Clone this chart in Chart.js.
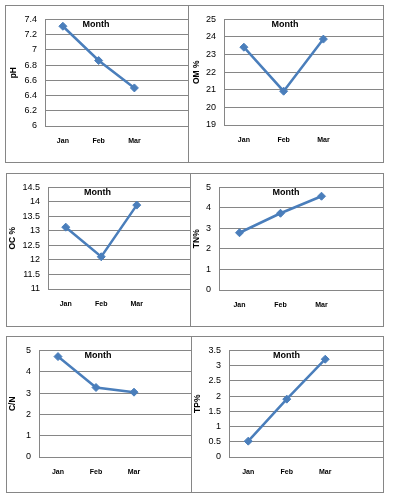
<!DOCTYPE html>
<html>
<head>
<meta charset="utf-8">
<script src="https://cdn.jsdelivr.net/npm/chart.js@4.4.0/dist/chart.umd.min.js"></script>
<style>
body { margin: 0; background: #fff; }
.panel { position: absolute; border: 1px solid #868686; box-sizing: border-box; }
.panel canvas { position: absolute; left: 0; top: 0; }
</style>
</head>
<body>
<script>
// data
var months = ['Jan', 'Feb', 'Mar'];
var phValues = [7.31, 6.86, 6.50];
var omValues = [23.42, 20.92, 23.88];
var ocValues = [13.13, 12.11, 13.89];
var tnValues = [2.79, 3.74, 4.57];
var cnValues = [4.71, 3.26, 3.04];
var tpValues = [0.52, 1.90, 3.21];
var xTitle = 'Month';
var yTitles = ['pH', 'OM %', 'OC %', 'TN%', 'C/N', 'TP%'];
var yMins = [6, 19, 11, 0, 0, 0];
var yMaxs = [7.4, 25, 14.5, 5, 5, 3.5];
var ySteps = [0.2, 1, 0.5, 1, 1, 0.5];

// page layout: box = [left, top, right, bottom], area = [left, top, bottom]
var panels = [
  {box: [5, 5, 188, 162],    area: [45, 12, 126],   titleX: 14},
  {box: [188, 5, 383, 162],  area: [224, 13, 125],  titleX: 197},
  {box: [6, 173, 190, 326],  area: [48, 179, 289],  titleX: 13},
  {box: [190, 173, 383, 326],area: [219, 179, 290], titleX: 197},
  {box: [6, 336, 191, 492],  area: [39, 342, 457],  titleX: 13},
  {box: [191, 336, 383, 492],area: [229, 343, 457], titleX: 198}
];

var FONT = '"Liberation Sans", Arial, sans-serif';
var lineColor = '#4A7EBB';
var gridColor = '#868686';

var monthTitle = {
  id: 'monthTitle',
  afterDatasetsDraw: function(chart) {
    var c = chart.ctx;
    c.save();
    c.font = 'bold 9px ' + FONT;
    c.fillStyle = '#000';
    c.textAlign = 'center';
    c.textBaseline = 'middle';
    c.fillText(xTitle, chart.width / 2 - 1, chart.chartArea.top + 5);
    c.restore();
  }
};

function makePanel(i, values) {
  var p = panels[i];
  var left = p.box[0], top = p.box[1];
  var w = p.box[2] - left + 1, h = p.box[3] - top + 1;
  var div = document.createElement('div');
  div.className = 'panel';
  div.style.left = left + 'px';
  div.style.top = top + 'px';
  div.style.width = w + 'px';
  div.style.height = h + 'px';
  var cv = document.createElement('canvas');
  var cw = w - 2, ch = h - 2;
  cv.width = cw; cv.height = ch;
  cv.style.width = cw + 'px'; cv.style.height = ch + 'px';
  div.appendChild(cv);
  document.body.appendChild(div);

  var ox = left + 1, oy = top + 1;
  var padLeft = p.titleX - ox - 5.1;
  var yWidth = p.area[0] - ox - padLeft;
  var padTop = p.area[1] - oy;
  var xHeight = ch - (p.area[2] - oy);

  new Chart(cv, {
    type: 'line',
    data: {
      labels: months.concat(['']),
      datasets: [{
        data: values,
        borderColor: lineColor,
        backgroundColor: lineColor,
        borderWidth: 2.5,
        pointStyle: 'rectRot',
        pointRadius: 4,
        pointBorderWidth: 1,
        tension: 0
      }]
    },
    options: {
      responsive: false,
      animation: false,
      layout: { autoPadding: false, padding: { left: padLeft, top: padTop, right: 0, bottom: 0 } },
      plugins: { legend: { display: false }, tooltip: { enabled: false } },
      scales: {
        x: {
          offset: true,
          grid: { display: false, drawTicks: false },
          border: { color: gridColor, width: 1 },
          ticks: { padding: 11, maxRotation: 0, autoSkip: false, color: '#000',
                   font: { family: FONT, size: 7, weight: 'bold' } },
          afterFit: function(scale) { scale.height = xHeight; }
        },
        y: {
          min: yMins[i],
          max: yMaxs[i],
          grid: { color: gridColor, lineWidth: 1, drawTicks: false },
          border: { color: gridColor, width: 1 },
          ticks: {
            stepSize: ySteps[i],
            padding: 8,
            color: '#000',
            font: { family: FONT, size: 9 },
            callback: function(v) { return String(Math.round(v * 100) / 100); }
          },
          title: { display: true, text: yTitles[i], color: '#000', padding: 0,
                   font: { family: FONT, size: 8.5, weight: 'bold', lineHeight: 1.2 } },
          afterFit: function(scale) { scale.width = yWidth; }
        }
      }
    },
    plugins: [monthTitle]
  });
}

makePanel(0, phValues);
makePanel(1, omValues);
makePanel(2, ocValues);
makePanel(3, tnValues);
makePanel(4, cnValues);
makePanel(5, tpValues);
</script>
</body>
</html>
